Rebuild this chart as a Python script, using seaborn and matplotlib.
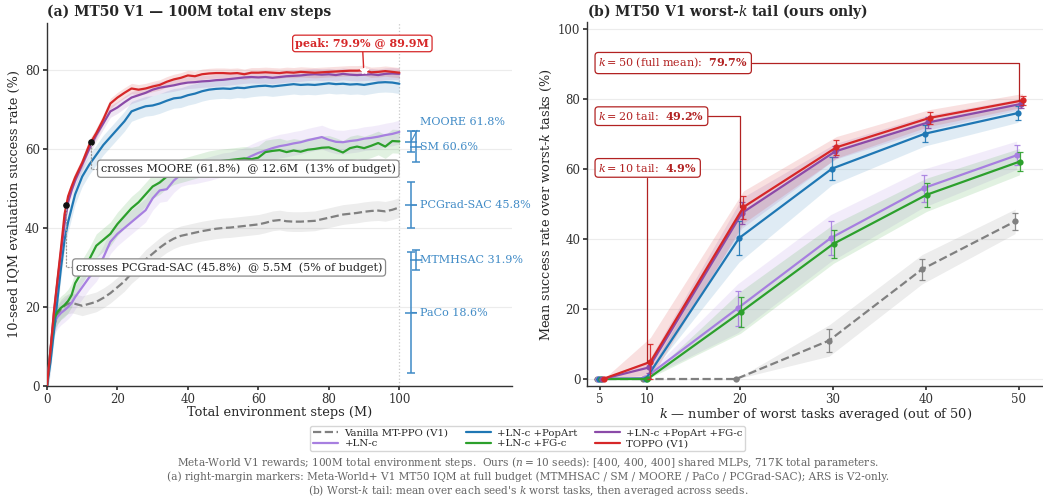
import numpy as np
import pandas as pd
import matplotlib
matplotlib.use("Agg")
import matplotlib.pyplot as plt
import seaborn as sns

# ---------------- data: panel (a) ----------------
steps_m = [0, 1, 2, 3, 4, 5, 6, 7, 8,
           10, 12, 14, 16, 18, 20, 22, 24, 26, 28,
           30, 32, 34, 36, 38, 40, 42, 44, 46, 48,
           50, 52, 54, 56, 58, 60, 62, 64, 66, 68,
           70, 72, 74, 76, 78, 80, 82, 84, 86, 88,
           90, 92, 94, 96, 98, 100]

iqm_vanilla = [0, 8, 15, 18, 19.5, 20.3, 20.8, 21, 20.8,
               20.3, 20.8, 21.3, 22.3, 23.5, 25, 26.5, 28.5, 30, 32,
               33.5, 35, 36.3, 37.3, 38, 38.4, 38.8, 39.2, 39.5, 39.8,
               40, 40.1, 40.3, 40.5, 40.7, 40.9, 41.3, 41.8, 42, 41.7,
               41.6, 41.6, 41.7, 41.8, 42.2, 42.6, 43, 43.4, 43.6, 43.8,
               44.1, 44.3, 44.4, 44.2, 44.6, 45.2]
iqm_ln = [0, 8, 16, 17.5, 18.5, 19.2, 20, 21, 22.5,
          25, 27.5, 29.5, 32.5, 36.5, 38.5, 40, 41.5, 43, 44.5,
          47.5, 49.5, 49.8, 52, 53.5, 54, 54.2, 54.6, 55, 55.5,
          56, 56.2, 56.8, 57.3, 58.2, 59, 59.6, 60.2, 60.7, 61,
          61.4, 61.7, 62.2, 62.6, 63, 62.3, 61.8, 61.7, 62, 62.2,
          62.6, 62.8, 63.1, 63.5, 63.8, 64.3]
iqm_ln_pop = [0, 6, 14, 22, 30, 37, 41.5, 45, 48.5,
              53, 56, 58.5, 61, 63, 65, 67, 69.5, 70.2, 70.8,
              71, 71.5, 72.2, 72.8, 73, 73.6, 74, 74.6, 75, 75.2,
              75.3, 75.2, 75.5, 75.4, 75.7, 75.9, 76, 75.8, 76, 76.2,
              76.4, 76.2, 76.3, 76.2, 76.4, 76.6, 76.4, 76.5, 76.3, 76.4,
              76.2, 76.5, 76.8, 76.9, 76.8, 76.5]
iqm_ln_fg = [0, 9, 17, 18.8, 19.8, 20.5, 21.5, 23, 26,
             29, 32, 35.5, 37, 38.5, 41, 43, 45, 46.5, 48.5,
             50.5, 51.5, 53, 54, 54.5, 55, 55.5, 56, 56.5, 56.8,
             57, 57.2, 57.4, 57.6, 57.4, 57.8, 59.2, 59.5, 59.7, 59.2,
             59.6, 59.3, 59.8, 60, 60.3, 60.4, 59.8, 59.1, 60.2, 60.6,
             60.2, 60.8, 61.5, 60.6, 62, 61.9]
iqm_ln_pop_fg = [0, 9, 18.5, 26.5, 34, 41, 46.5, 49.5, 52,
                 56, 60, 63.5, 66.5, 69.5, 70.5, 71.8, 73, 73.6, 74.2,
                 75, 75.5, 75.8, 76.1, 76.5, 76.8, 76.9, 77.1, 77.2, 77.4,
                 77.5, 77.7, 77.9, 78.1, 78.2, 78.1, 78.2, 78, 78.2, 78.4,
                 78.5, 78.6, 78.8, 78.9, 78.8, 78.9, 78.7, 79, 78.8, 78.7,
                 78.8, 78.9, 78.7, 79, 79.1, 79]
iqm_toppo = [0, 9, 19, 27, 35, 43.5, 48, 50.5, 52.8,
             56.5, 61, 64, 67.5, 71.5, 73, 74.2, 75.3, 75, 75.3,
             75.8, 76.2, 77, 77.6, 78, 78.6, 78.4, 78.9, 79.1, 79.2,
             79.2, 79.1, 79.2, 78.9, 79.3, 79.3, 79.4, 79.3, 79.2, 79.4,
             79.3, 79.5, 79.4, 79.3, 79.4, 79.5, 79.6, 79.7, 79.8, 79.8,
             79.9, 79.4, 79.5, 79.7, 79.5, 79.3]
band_halfwidth = [2.5, 3.0, 2.5, 3.0, 1.5, 1.3]

method_names = ["Vanilla MT-PPO (V1)", "+LN-c", "+LN-c +PopArt",
                "+LN-c +FG-c", "+LN-c +PopArt +FG-c", "TOPPO (V1)"]

baseline_names = ["MOORE", "SM", "PCGrad-SAC", "MTMHSAC", "PaCo"]
baseline_iqm = [61.8, 60.6, 45.8, 31.9, 18.6]
baseline_err = [2.7, 3.9, 5.9, 2.5, 15.4]

peak_value = 79.9
peak_step = 89.9
cross_values = [45.8, 61.8]
cross_steps = [5.5, 12.6]
cross_names = ["PCGrad-SAC", "MOORE"]
cross_budget = [5, 13]

# ---------------- data: panel (b) ----------------
k_values = [5, 10, 20, 30, 40, 50]
tail_vanilla = [0, 0, 0, 11.0, 31.4, 45.1]
tail_ln = [0, 0.2, 20.2, 40.3, 54.6, 64.0]
tail_ln_pop = [0, 0.1, 40.3, 60.2, 70.2, 76.1]
tail_ln_fg = [0, 0, 19.1, 38.7, 52.7, 62.2]
tail_ln_pop_fg = [0, 3.3, 47.5, 65.1, 73.4, 78.7]
tail_toppo = [0.1, 4.9, 49.2, 66.3, 74.7, 79.7]

err_vanilla = [0, 0, 0, 3.2, 3.0, 2.5]
err_ln = [0, 0.3, 5.0, 4.8, 3.9, 2.9]
err_ln_pop = [0, 0.3, 4.9, 3.3, 2.5, 1.9]
err_ln_fg = [0, 0.2, 4.3, 4.0, 3.4, 2.7]
err_ln_pop_fg = [0, 1.5, 3.1, 1.6, 1.5, 1.1]
err_toppo = [0, 5.0, 3.3, 2.2, 1.7, 1.4]

callout_k = [50, 20, 10]
callout_val = [79.7, 49.2, 4.9]
callout_desc = ["(full mean):", "tail:", "tail:"]

# ---------------- style ----------------
sns.set_theme(style="ticks")
plt.rcParams.update({
    "font.family": ["DejaVu Serif"],
    "mathtext.fontset": "dejavuserif",
    "axes.edgecolor": "#333333",
    "axes.linewidth": 1.0,
    "xtick.color": "#333333",
    "ytick.color": "#333333",
    "xtick.labelsize": 8.5,
    "ytick.labelsize": 8.5,
    "axes.labelsize": 9.3,
    "xtick.major.size": 3.0,
    "ytick.major.size": 3.0,
    "xtick.major.pad": 2.0,
    "ytick.major.pad": 2.0,
})

colors = ["#808080", "#a77fe0", "#1f77b4", "#2ca02c", "#8b4aa8", "#d62728"]
styles = ["--", "-", "-", "-", "-", "-"]
base_blue = "#3f8ac6"
dark_red = "#b22222"

fig = plt.figure(figsize=(10.43, 5.0), dpi=100)
axA = fig.add_axes([0.045, 0.228, 0.446, 0.727])
axB = fig.add_axes([0.563, 0.228, 0.437, 0.727])

# ---------------- panel (a) ----------------
curves = [iqm_vanilla, iqm_ln, iqm_ln_pop, iqm_ln_fg, iqm_ln_pop_fg, iqm_toppo]
for i, (name, ys) in enumerate(zip(method_names, curves)):
    ys = np.asarray(ys, dtype=float)
    df = pd.DataFrame({"step": steps_m, "iqm": ys})
    sns.lineplot(data=df, x="step", y="iqm", ax=axA, color=colors[i],
                 linestyle=styles[i], lw=1.6, label=name, zorder=3 + i,
                 errorbar=None)
    axA.fill_between(steps_m, ys - band_halfwidth[i], ys + band_halfwidth[i],
                     color=colors[i], alpha=0.14, lw=0, zorder=2)
handles, labels = axA.get_legend_handles_labels()
axA.get_legend().remove()

axA.set_xlim(0, 132)
axA.set_ylim(0, 92)
axA.set_xticks([0, 20, 40, 60, 80, 100])
axA.set_yticks([0, 20, 40, 60, 80])
axA.yaxis.grid(True, color="#ececec", lw=0.8)
axA.set_axisbelow(True)
axA.axvline(100, color="#c8c8c8", ls=":", lw=0.9, zorder=1)
axA.set_xlabel("Total environment steps (M)", labelpad=0)
axA.set_ylabel("10-seed IQM evaluation success rate (%)", labelpad=3)
axA.set_title("(a) MT50 V1 — 100M total env steps", loc="left",
              fontweight="bold", fontsize=10, pad=5)
sns.despine(ax=axA)

# crossing markers
cross_text_pos = [(8.2, 30.0), (15.3, 55.0)]
for cs, cv, cn, cb, tp in zip(cross_steps, cross_values, cross_names,
                              cross_budget, cross_text_pos):
    axA.plot([cs], [cv], "o", color="#111111", ms=3.8, zorder=12)
    axA.annotate(f"crosses {cn} ({cv:.1f}%)  @ {cs:.1f}M  ({cb}% of budget)",
                 xy=(cs, cv), xytext=tp, ha="left", va="center",
                 fontsize=8, color="#222222", zorder=13,
                 bbox=dict(boxstyle="round,pad=0.3", fc="white", ec="#8a8a8a",
                           lw=0.9),
                 arrowprops=dict(arrowstyle="-", ls=":", color="#999999",
                                 lw=0.9, shrinkA=0, shrinkB=2,
                                 connectionstyle="angle,angleA=0,angleB=90,rad=0"))

# peak
axA.plot([peak_step], [peak_value], marker="*", color="white", ms=6,
         mec="white", zorder=14)
axA.annotate(f"peak: {peak_value:.1f}% @ {peak_step:.1f}M",
             xy=(peak_step, peak_value), xytext=(89.5, 86.7),
             ha="center", va="center", fontsize=8, fontweight="bold",
             color="#d62728", zorder=15,
             bbox=dict(boxstyle="round,pad=0.25", fc="white", ec="#d62728",
                       lw=0.9),
             arrowprops=dict(arrowstyle="-", color="#d62728", lw=1.0,
                             shrinkA=0, shrinkB=2))

# right-margin baselines
bar_x = [103.3, 104.7, 103.3, 104.7, 103.3]
label_dy = [5.0, 0, 0, 0, 0]
for bx, name, v, e, dy in zip(bar_x, baseline_names, baseline_iqm,
                              baseline_err, label_dy):
    axA.errorbar([bx], [v], yerr=[e], fmt="_", ms=9, color=base_blue,
                 ecolor=base_blue, elinewidth=1.1, capsize=3, capthick=1.0,
                 mew=1.1, zorder=5, clip_on=False)
    axA.annotate(f"{name} {v:.1f}%", xy=(bx, v), xytext=(105.8, v + dy),
                 ha="left", va="center", fontsize=8, color=base_blue,
                 arrowprops=dict(arrowstyle="-", color=base_blue, lw=0.8,
                                 shrinkA=0, shrinkB=0,
                                 relpos=(0.0, 0.5 if dy == 0 else 0.2)))

# ---------------- panel (b) ----------------
tails = [tail_vanilla, tail_ln, tail_ln_pop, tail_ln_fg, tail_ln_pop_fg, tail_toppo]
errs = [err_vanilla, err_ln, err_ln_pop, err_ln_fg, err_ln_pop_fg, err_toppo]
for i, (ys, es) in enumerate(zip(tails, errs)):
    ys = np.asarray(ys, dtype=float)
    es = np.asarray(es, dtype=float)
    xs = np.asarray(k_values, dtype=float) + (i - 2.5) * 0.16
    axB.fill_between(xs, np.clip(ys - 1.4 * es, 0, None), ys + 1.4 * es,
                     color=colors[i], alpha=0.14, lw=0, zorder=2)
    sns.lineplot(x=xs, y=ys, ax=axB, color=colors[i], linestyle=styles[i],
                 lw=1.6, marker="o", markersize=4.5, markeredgewidth=0,
                 zorder=3 + i, errorbar=None)
    axB.errorbar(xs, ys, yerr=es, fmt="none", ecolor=colors[i],
                 elinewidth=0.9, capsize=2, capthick=0.9, alpha=0.9,
                 zorder=3 + i)

axB.set_xlim(3.6, 52.6)
axB.set_ylim(-2, 102)
axB.set_xticks(k_values)
axB.set_yticks([0, 20, 40, 60, 80, 100])
axB.yaxis.grid(True, color="#ececec", lw=0.8)
axB.set_axisbelow(True)
axB.set_xlabel(r"$k$ — number of worst tasks averaged (out of 50)", labelpad=0)
axB.set_ylabel(r"Mean success rate over worst-$k$ tasks (%)", labelpad=3)
axB.set_title(r"(b) MT50 V1 worst-$k$ tail (ours only)", loc="left",
              fontweight="bold", fontsize=10, pad=5)
sns.despine(ax=axB)

callout_y = [90.4, 75.2, 60.4]
for kk, vv, desc, ty in zip(callout_k, callout_val, callout_desc, callout_y):
    txt = rf"$k = {kk}$ {desc}  $\mathbf{{{vv:.1f}\%}}$"
    axB.annotate(txt, xy=(kk, vv), xytext=(4.8, ty), ha="left", va="center",
                 fontsize=8, color=dark_red, zorder=20,
                 bbox=dict(boxstyle="round,pad=0.3", fc="white", ec=dark_red,
                           lw=0.9),
                 arrowprops=dict(arrowstyle="-", color=dark_red, lw=0.9,
                                 shrinkA=0, shrinkB=0,
                                 connectionstyle="angle,angleA=0,angleB=90,rad=0"))

# ---------------- legend & footer ----------------
fig.legend(handles, labels, loc="upper center", bbox_to_anchor=(0.506, 0.149),
           ncol=3, fontsize=7.3, frameon=True, edgecolor="#cccccc",
           handlelength=2.5, columnspacing=1.7, borderpad=0.3,
           labelspacing=0.15, borderaxespad=0.0, handletextpad=0.6)

footer = [
    r"Meta-World V1 rewards; 100M total environment steps.  Ours ($n = 10$ seeds): [400, 400, 400] shared MLPs, 717K total parameters.",
    "(a) right-margin markers: Meta-World+ V1 MT50 IQM at full budget (MTMHSAC / SM / MOORE / PaCo / PCGrad-SAC); ARS is V2-only.",
    r"(b) Worst-$k$ tail: mean over each seed's $k$ worst tasks, then averaged across seeds.",
]
for j, line in enumerate(footer):
    fig.text(0.506, 0.074 - j * 0.028, line, ha="center", va="center",
             fontsize=7.6, color="#666666")

fig.savefig("out.png", dpi=100)
